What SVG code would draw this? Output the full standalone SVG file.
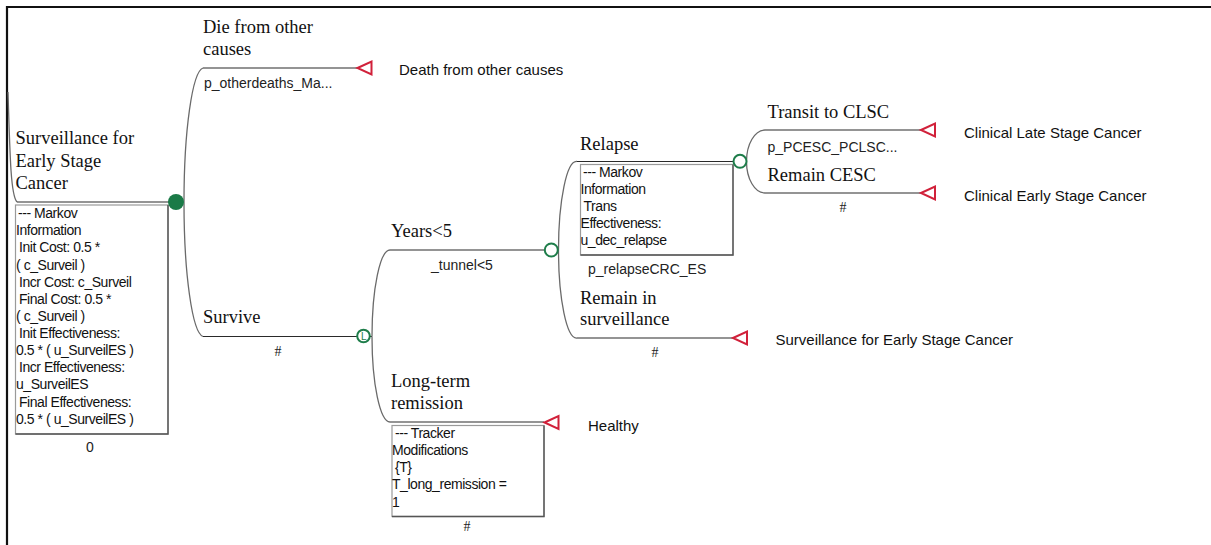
<svg xmlns="http://www.w3.org/2000/svg" width="1211" height="545" viewBox="0 0 1211 545">
  <style>
    .frame { fill: none; stroke: #111; stroke-width: 2.2; }
    .branch { fill: none; stroke: #2a2a2a; stroke-width: 1.2; }
    .curve { fill: none; stroke: #6a6a6a; stroke-width: 1.3; }
    .term { fill: #fff; stroke: #d1213a; stroke-width: 2; stroke-linejoin: miter; }
    .chance { fill: #fff; stroke: #1e7d4a; stroke-width: 2; }
    .markov { fill: #1a7a47; stroke: none; }
    .box { fill: #fff; stroke: #9a9a9a; stroke-width: 1.2; }
    .boxshade { fill: none; stroke: #555; stroke-width: 1.4; }
    .lbl { font-family: "Liberation Serif", "Times New Roman", serif; font-size: 18.5px; fill: #111; }
    .prob { font-family: "Liberation Sans", Arial, sans-serif; font-size: 14px; fill: #222; }
    .hash { font-family: "Liberation Serif", "Times New Roman", serif; font-size: 14px; fill: #222; }
    .dest { font-family: "Liberation Sans", Arial, sans-serif; font-size: 15px; fill: #111; }
    .info { font-family: "Liberation Sans", Arial, sans-serif; font-size: 14px; fill: #111; letter-spacing: -0.45px; }
    .lmark { font-family: "Liberation Sans", Arial, sans-serif; font-size: 10px; fill: #1e7d4a; }
  </style>
  <defs>
    <polygon id="tri" class="term" points="0,0 14,-6.5 14,6.5"/>
  </defs>

  <rect width="1211" height="545" fill="#fff"/>
  <path class="frame" d="M7,545 V7 H1211"/>

  <!-- connectors -->
  <g id="connectors">
    <!-- incoming branch to the root state -->
    <path class="curve" d="M8,92 C10,160 11,196 17,202"/>
    <path class="branch" d="M17,202 H169"/>
    <!-- from the root chance node -->
    <path class="curve" d="M184,202 A20,134 0 0 1 203,68"/>
    <path class="branch" d="M203,68 H357"/>
    <path class="curve" d="M184,202 A20,134 0 0 0 203,336.5"/>
    <path class="branch" d="M203,336.5 H357"/>
    <!-- from the Survive node -->
    <path class="branch" d="M370,336.5 H372"/>
    <path class="curve" d="M372,336.5 A18,86.5 0 0 1 390,250"/>
    <path class="branch" d="M390,250 H544.5"/>
    <path class="curve" d="M372,336.5 A18,85.5 0 0 0 390,422"/>
    <path class="branch" d="M390,422 H544"/>
    <!-- from the Years<5 node -->
    <path class="curve" d="M558.5,250 A18,88.5 0 0 1 577,161.5"/>
    <path class="branch" d="M577,161.5 H733"/>
    <path class="curve" d="M558.5,250 A18,88 0 0 0 577,338"/>
    <path class="branch" d="M577,338 H733"/>
    <!-- from the Relapse node -->
    <path class="curve" d="M746.5,161.5 A18.5,31.5 0 0 1 765,130"/>
    <path class="branch" d="M765,130 H921"/>
    <path class="curve" d="M746.5,161.5 A18.5,31.5 0 0 0 765,193"/>
    <path class="branch" d="M765,193 H921"/>
  </g>

  <!-- root state: Surveillance for Early Stage Cancer -->
  <g id="node-root">
    <text class="lbl" x="15.5" y="144">Surveillance for</text>
    <text class="lbl" x="15.5" y="166.5">Early Stage</text>
    <text class="lbl" x="15.5" y="188.5">Cancer</text>
    <rect class="box" x="15.5" y="205" width="152.5" height="229"/>
    <path class="boxshade" d="M168,205 V434 H15.5"/>
    <text class="info" x="18" y="218.3">--- Markov</text>
    <text class="info" x="16" y="235.3">Information</text>
    <text class="info" x="19" y="252.3">Init Cost: 0.5 *</text>
    <text class="info" x="16" y="269.5">( c_Surveil )</text>
    <text class="info" x="19" y="286.5">Incr Cost: c_Surveil</text>
    <text class="info" x="19" y="303.5">Final Cost: 0.5 *</text>
    <text class="info" x="16" y="320.5">( c_Surveil )</text>
    <text class="info" x="19" y="337.7">Init Effectiveness:</text>
    <text class="info" x="16" y="355">0.5 * ( u_SurveilES )</text>
    <text class="info" x="19" y="372.3">Incr Effectiveness:</text>
    <text class="info" x="16" y="389.3">u_SurveilES</text>
    <text class="info" x="19" y="406.7">Final Effectiveness:</text>
    <text class="info" x="16" y="424">0.5 * ( u_SurveilES )</text>
    <text class="prob" x="90" y="452" text-anchor="middle">0</text>
  </g>

  <!-- root chance node -->
  <g id="node-chance-root">
    <circle class="markov" cx="176" cy="202" r="8"/>
  </g>

  <!-- Die from other causes -->
  <g id="node-die">
    <text class="lbl" x="203" y="32.5">Die from other</text>
    <text class="lbl" x="203" y="54.5">causes</text>
    <text class="prob" x="204" y="87.5">p_otherdeaths_Ma...</text>
    <use href="#tri" x="357.5" y="68"/>
    <text class="dest" x="399" y="75">Death from other causes</text>
  </g>

  <!-- Survive -->
  <g id="node-survive">
    <text class="lbl" x="203" y="323">Survive</text>
    <text class="hash" x="278" y="356" text-anchor="middle">#</text>
    <circle class="chance" cx="363.5" cy="336" r="6.3"/>
    <text class="lmark" x="363.8" y="339.8" text-anchor="middle">L</text>
  </g>

  <!-- Years<5 -->
  <g id="node-years">
    <text class="lbl" x="391" y="237">Years&lt;5</text>
    <text class="prob" x="431" y="269.5">_tunnel&lt;5</text>
    <circle class="chance" cx="551.3" cy="250" r="6.5"/>
  </g>

  <!-- Long-term remission -->
  <g id="node-remission">
    <text class="lbl" x="391" y="386.7">Long-term</text>
    <text class="lbl" x="391" y="408.5">remission</text>
    <use href="#tri" x="544.5" y="422.5"/>
    <rect class="box" x="392" y="425.5" width="152" height="91"/>
    <path class="boxshade" d="M544,425.5 V516.5 H392"/>
    <text class="info" x="395" y="437.5">--- Tracker</text>
    <text class="info" x="392" y="454.5">Modifications</text>
    <text class="info" x="395" y="471.7">{T}</text>
    <text class="info" x="392" y="489.3">T_long_remission =</text>
    <text class="info" x="392" y="506.7">1</text>
    <text class="hash" x="467" y="531" text-anchor="middle">#</text>
    <text class="dest" x="588" y="431">Healthy</text>
  </g>

  <!-- Relapse -->
  <g id="node-relapse">
    <text class="lbl" x="580" y="149.5">Relapse</text>
    <rect class="box" x="580.5" y="164.5" width="152.5" height="90.5"/>
    <path class="boxshade" d="M733,164.5 V255 H580.5"/>
    <text class="info" x="583" y="177.3">--- Markov</text>
    <text class="info" x="580.5" y="194">Information</text>
    <text class="info" x="583.5" y="211">Trans</text>
    <text class="info" x="580.5" y="228">Effectiveness:</text>
    <text class="info" x="580.5" y="245">u_dec_relapse</text>
    <text class="prob" x="588" y="273.5">p_relapseCRC_ES</text>
    <circle class="chance" cx="740" cy="161.3" r="6.5"/>
  </g>

  <!-- Remain in surveillance -->
  <g id="node-remain-surv">
    <text class="lbl" x="580" y="303.5">Remain in</text>
    <text class="lbl" x="580" y="325">surveillance</text>
    <use href="#tri" x="733" y="338"/>
    <text class="hash" x="655" y="357" text-anchor="middle">#</text>
    <text class="dest" x="775.5" y="345">Surveillance for Early Stage Cancer</text>
  </g>

  <!-- Transit to CLSC -->
  <g id="node-transit">
    <text class="lbl" x="767.5" y="117.5">Transit to CLSC</text>
    <text class="prob" x="767.5" y="151.5">p_PCESC_PCLSC...</text>
    <use href="#tri" x="921" y="130"/>
    <text class="dest" x="964" y="137.5">Clinical Late Stage Cancer</text>
  </g>

  <!-- Remain CESC -->
  <g id="node-remain-cesc">
    <text class="lbl" x="767.5" y="181">Remain CESC</text>
    <use href="#tri" x="921" y="193"/>
    <text class="hash" x="843" y="212" text-anchor="middle">#</text>
    <text class="dest" x="964" y="201">Clinical Early Stage Cancer</text>
  </g>
</svg>
